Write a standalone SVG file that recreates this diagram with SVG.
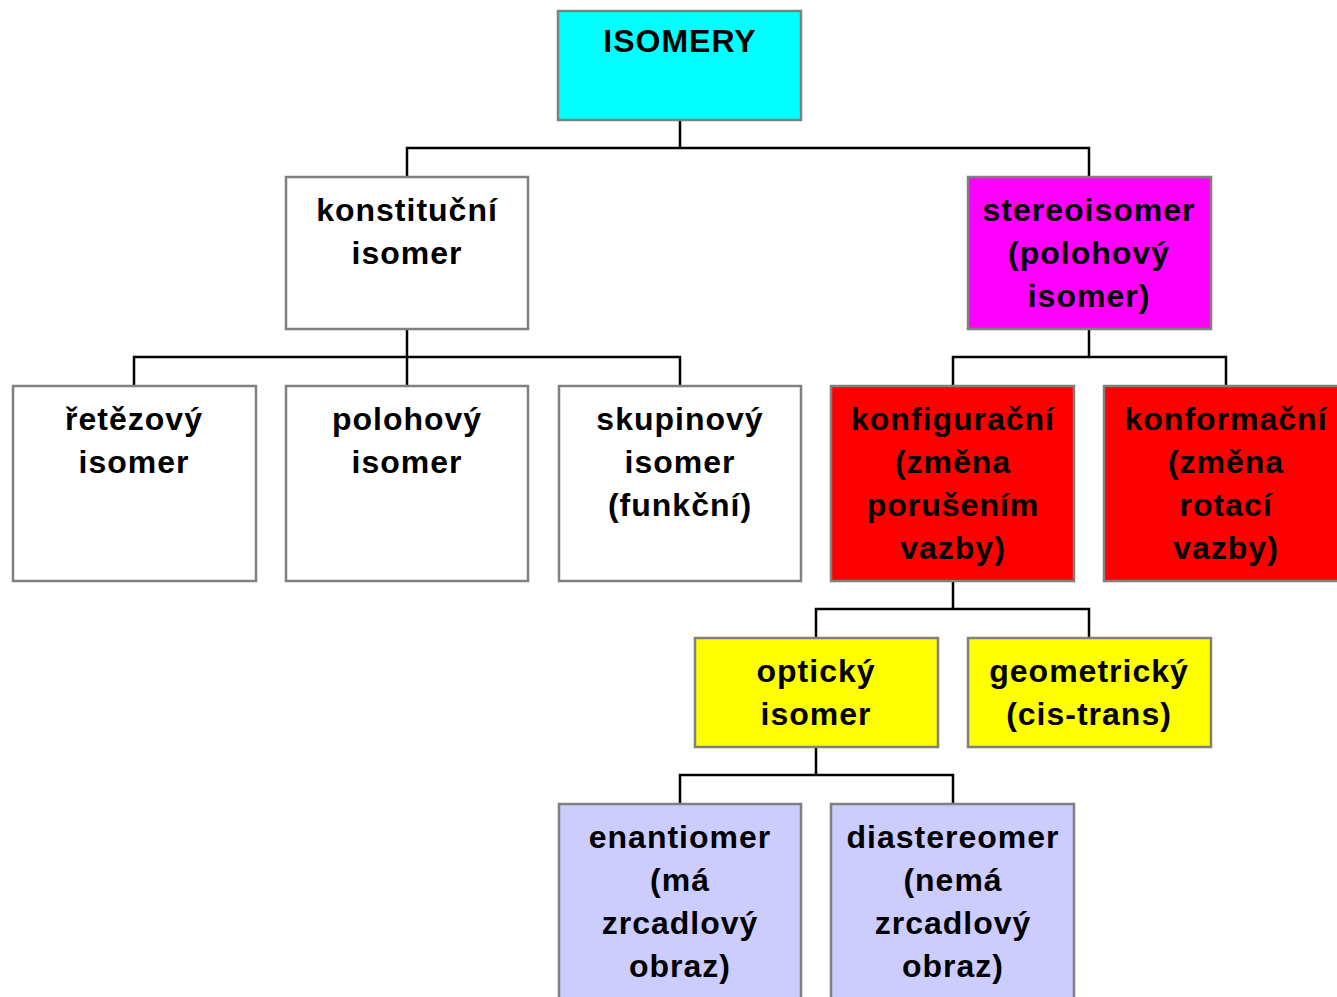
<svg xmlns="http://www.w3.org/2000/svg" width="1337" height="997" viewBox="0 0 1337 997">
<style>
.box{stroke:#808080;stroke-width:2.5}
.t{font-family:"Liberation Sans",Arial,sans-serif;font-weight:bold;font-size:32px;letter-spacing:1px;text-anchor:middle;fill:#000}
.c{fill:none;stroke:#000;stroke-width:2.5}
</style>
<rect width="1337" height="997" fill="#fff"/>
<g id="connectors">
<path class="c" d="M680 120V148M407 177V148H1089V177"/>
<path class="c" d="M407 329V357M134 386V357H680V386M407 357V386"/>
<path class="c" d="M1089 329V357M953 386V357H1226V386"/>
<path class="c" d="M953 581V609M816 638V609H1089V638"/>
<path class="c" d="M816 747V775M680 804V775H953V804"/>
</g>
<g id="isomery"><rect class="box" x="558" y="11" width="243" height="109" fill="#00ffff"/><text class="t" x="680" y="52">ISOMERY</text></g>
<g id="konstitucni"><rect class="box" x="286" y="177" width="242" height="152" fill="#fff"/><text class="t" x="407" y="221">konstituční<tspan x="407" dy="43">isomer</tspan></text></g>
<g id="stereoisomer"><rect class="box" x="968" y="177" width="243" height="152" fill="#ff00ff"/><text class="t" x="1089" y="221">stereoisomer<tspan x="1089" dy="43">(polohový</tspan><tspan x="1089" dy="43">isomer)</tspan></text></g>
<g id="retezovy"><rect class="box" x="13" y="386" width="243" height="195" fill="#fff"/><text class="t" x="134" y="430">řetězový<tspan x="134" dy="43">isomer</tspan></text></g>
<g id="polohovy"><rect class="box" x="286" y="386" width="242" height="195" fill="#fff"/><text class="t" x="407" y="430">polohový<tspan x="407" dy="43">isomer</tspan></text></g>
<g id="skupinovy"><rect class="box" x="559" y="386" width="242" height="195" fill="#fff"/><text class="t" x="680" y="430">skupinový<tspan x="680" dy="43">isomer</tspan><tspan x="680" dy="43">(funkční)</tspan></text></g>
<g id="konfiguracni"><rect class="box" x="831" y="386" width="243" height="195" fill="#ff0000"/><text class="t" x="953" y="430">konfigurační<tspan x="953" dy="43">(změna</tspan><tspan x="953" dy="43">porušením</tspan><tspan x="953" dy="43">vazby)</tspan></text></g>
<g id="konformacni"><rect class="box" x="1104" y="386" width="243" height="195" fill="#ff0000"/><text class="t" x="1226" y="430">konformační<tspan x="1226" dy="43">(změna</tspan><tspan x="1226" dy="43">rotací</tspan><tspan x="1226" dy="43">vazby)</tspan></text></g>
<g id="opticky"><rect class="box" x="695" y="638" width="243" height="109" fill="#ffff00"/><text class="t" x="816" y="682">optický<tspan x="816" dy="43">isomer</tspan></text></g>
<g id="geometricky"><rect class="box" x="968" y="638" width="243" height="109" fill="#ffff00"/><text class="t" x="1089" y="682">geometrický<tspan x="1089" dy="43">(cis-trans)</tspan></text></g>
<g id="enantiomer"><rect class="box" x="559" y="804" width="242" height="210" fill="#ccccff"/><text class="t" x="680" y="848">enantiomer<tspan x="680" dy="43">(má</tspan><tspan x="680" dy="43">zrcadlový</tspan><tspan x="680" dy="43">obraz)</tspan></text></g>
<g id="diastereomer"><rect class="box" x="831" y="804" width="243" height="210" fill="#ccccff"/><text class="t" x="953" y="848">diastereomer<tspan x="953" dy="43">(nemá</tspan><tspan x="953" dy="43">zrcadlový</tspan><tspan x="953" dy="43">obraz)</tspan></text></g>
</svg>
